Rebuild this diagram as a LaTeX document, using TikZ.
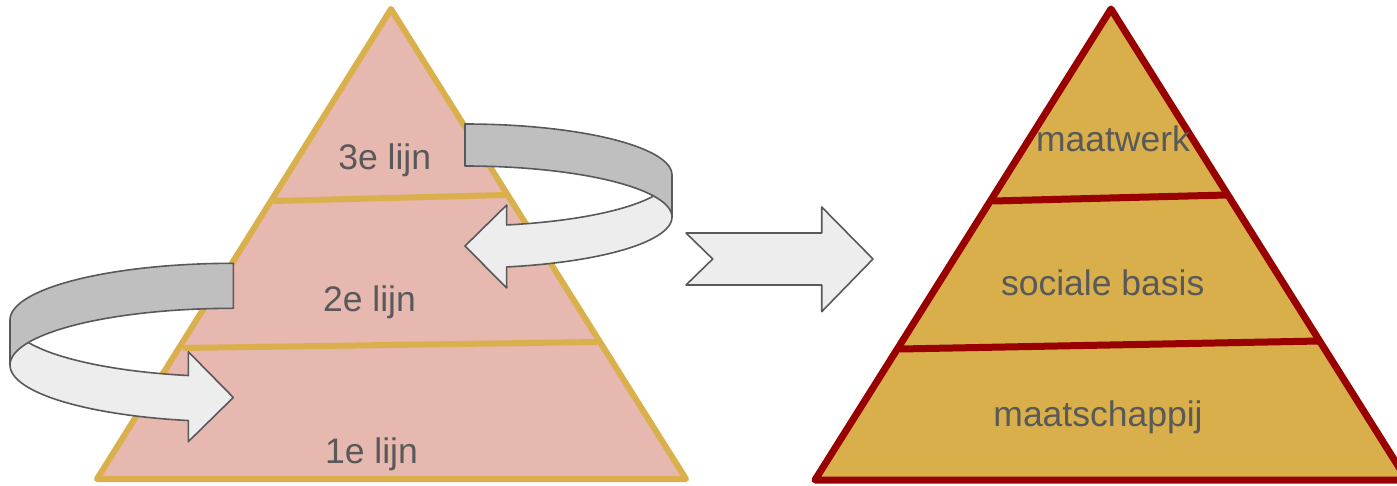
\documentclass[tikz,border=0pt]{standalone}
\usepackage{fontspec}
\setmainfont{Liberation Sans}
\definecolor{pinkfill}{HTML}{E6B8AF}
\definecolor{goldline}{HTML}{D9B04B}
\definecolor{goldfill}{HTML}{D8AF4A}
\definecolor{redline}{HTML}{990000}
\definecolor{txtgray}{HTML}{595959}
\definecolor{bandlight}{HTML}{EDEDED}
\definecolor{banddark}{HTML}{BFBFBF}
\definecolor{bandedge}{HTML}{595959}
\begin{document}
\begin{tikzpicture}[x=1pt,y=-1pt,
  pyrleft/.style={fill=pinkfill, draw=goldline, line width=6pt, line join=round},
  divleft/.style={draw=goldline, line width=6pt},
  pyrright/.style={fill=goldfill, draw=redline, line width=7pt, line join=round},
  divright/.style={draw=redline, line width=7pt},
  tierlabel/.style={font=\fontsize{35.5}{40}\selectfont, text=txtgray, inner sep=0pt, anchor=base},
  bandfront/.style={fill=bandlight, draw=bandedge, line width=1.6pt, line join=round},
  bandback/.style={fill=banddark, draw=bandedge, line width=1.6pt, line join=round}]
\useasboundingbox (0,0) rectangle (1397,486);

% left pyramid: three lines of care
\coordinate (LA) at (391,9);
\coordinate (LB) at (97,479);
\coordinate (LC) at (686,479);
\path[pyrleft] (LA) -- (LB) -- (LC) -- cycle;
\coordinate (L1a) at (274,201);
\coordinate (L1b) at (505,195);
\coordinate (L2a) at (183,348);
\coordinate (L2b) at (597,342);
\draw[divleft] (L1a) -- (L1b);
\draw[divleft] (L2a) -- (L2b);
\node[tierlabel] (t3) at (384.7,169.3) {3e lijn};
\node[tierlabel] (t2) at (369.5,311.7) {2e lijn};
\node[tierlabel] (t1) at (371.5,463.3) {1e lijn};

% circular arrow on the right of the left pyramid (3e -> 2e)
\path[bandfront]
  plot[domain=0:78.4, samples=40, variable=\t] ({465+207*cos(\t)},{175+51*sin(\t)})
  -- (506.7,205) -- (465,246) -- (506.7,288)
  -- plot[domain=78.4:0, samples=40, variable=\t] ({465+207*cos(\t)},{217+51*sin(\t)})
  -- cycle;
\path[bandback]
  plot[domain=270:360, samples=40, variable=\t] ({465+207*cos(\t)},{175+51*sin(\t)})
  -- plot[domain=360:270, samples=40, variable=\t] ({465+207*cos(\t)},{217+51*sin(\t)})
  -- cycle;

% circular arrow on the left of the left pyramid (2e -> 1e)
\path[bandfront]
  plot[domain=180:101.6, samples=40, variable=\t] ({233.3+223.3*cos(\t)},{320+56.7*sin(\t)})
  -- (188.3,351.7) -- (233.3,397.5) -- (188.3,441.7)
  -- plot[domain=101.6:180, samples=40, variable=\t] ({233.3+223.3*cos(\t)},{365+56.7*sin(\t)})
  -- cycle;
\path[bandback]
  plot[domain=270:180, samples=40, variable=\t] ({233.3+223.3*cos(\t)},{320+56.7*sin(\t)})
  -- plot[domain=180:270, samples=40, variable=\t] ({233.3+223.3*cos(\t)},{365+56.7*sin(\t)})
  -- cycle;

% notched arrow between the pyramids
\path[bandfront] (686,233) -- (712.7,259) -- (686,285) -- (821.7,285)
  -- (821.7,311.7) -- (873,259) -- (821.7,207) -- (821.7,233) -- cycle;

% right pyramid
\coordinate (RA) at (1111,9);
\coordinate (RB) at (815,480);
\coordinate (RC) at (1407,480);
\path[pyrright] (RA) -- (RB) -- (RC) -- cycle;
\coordinate (R1a) at (993,201);
\coordinate (R1b) at (1227,195);
\coordinate (R2a) at (900,349);
\coordinate (R2b) at (1320,341);
\draw[divright] (R1a) -- (R1b);
\draw[divright] (R2a) -- (R2b);
\node[tierlabel] (r3) at (1113,151.7) {maatwerk};
\node[tierlabel] (r2) at (1102.7,295) {sociale basis};
\node[tierlabel] (r1) at (1098,426.7) {maatschappij};
\end{tikzpicture}
\end{document}
